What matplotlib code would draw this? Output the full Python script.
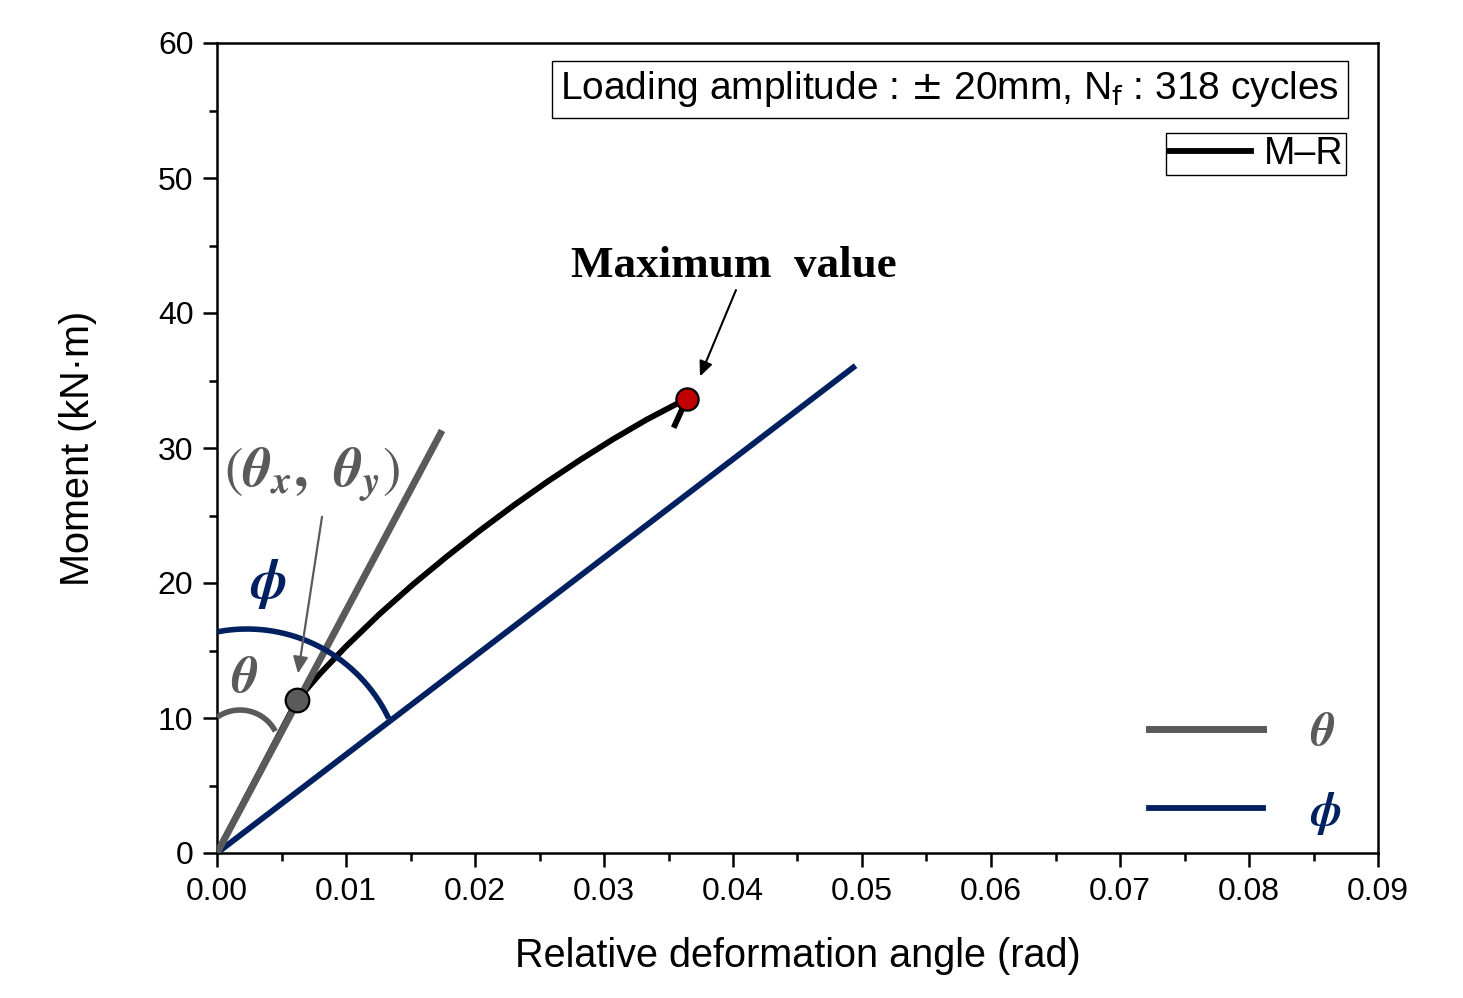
import numpy as np
import matplotlib
matplotlib.use("Agg")
import matplotlib.pyplot as plt
from matplotlib.lines import Line2D

plt.rcParams['font.family'] = ['Liberation Sans', 'DejaVu Sans']
plt.rcParams['mathtext.fontset'] = 'stix'

# ---------------- data ----------------
x_limits = [0.0, 0.09]
y_limits = [0, 60]
x_ticks = [0.00, 0.01, 0.02, 0.03, 0.04, 0.05, 0.06, 0.07, 0.08, 0.09]
y_ticks = [0, 10, 20, 30, 40, 50, 60]

theta_x = [0.0, 0.01745]
theta_y = [0.0, 31.3]
phi_x = [0.0, 0.0495]
phi_y = [0.0, 36.1]

mr_x = [0.0, 0.0062, 0.0080, 0.0100, 0.0126, 0.0152, 0.0178, 0.0204, 0.0230,
        0.0256, 0.0282, 0.0307, 0.0333, 0.0359, 0.0364, 0.0354]
mr_y = [0.0, 11.3, 13.3, 15.3, 17.7, 19.9, 21.95, 23.9, 25.75,
        27.5, 29.15, 30.65, 32.1, 33.4, 33.6, 31.5]

yield_pt = (0.0062, 11.3)
max_pt = (0.0364, 33.6)

GRAY = '#5a5a5a'
NAVY = '#002060'
RED = '#c00000'

fig = plt.figure(figsize=(14.63, 9.98), dpi=100)
ax = fig.add_axes([217/1463, 145/998, 1161/1463, 810/998])
ax.set_xlim(*x_limits)
ax.set_ylim(*y_limits)

ax.plot(mr_x, mr_y, color='black', lw=4.2, solid_capstyle='butt', solid_joinstyle='round', zorder=3)
ax.plot(phi_x, phi_y, color=NAVY, lw=4.2, solid_capstyle='butt', zorder=3)
ax.plot(theta_x, theta_y, color=GRAY, lw=5.0, solid_capstyle='butt', zorder=4)

ax.plot([yield_pt[0]], [yield_pt[1]], 'o', ms=17, mfc=GRAY, mec='black', mew=1.6, zorder=6)
ax.plot([max_pt[0]], [max_pt[1]], 'o', ms=16, mfc=RED, mec='black', mew=1.6, zorder=6)

# arcs (circles in display space)
def pix_arc(center_px, r_px, t1, t2, color, lw):
    t = np.radians(np.linspace(t1, t2, 200))
    px = center_px[0] + r_px * np.cos(t)
    py = center_px[1] - r_px * np.sin(t)
    disp = np.column_stack([px, 998 - py])
    data = ax.transData.inverted().transform(disp)
    ax.plot(data[:, 0], data[:, 1], color=color, lw=lw, solid_capstyle='butt', zorder=5)

pix_arc((247, 786), 157, 101, 25.5, NAVY, 4.0)
pix_arc((240, 750), 40, 125, 28, GRAY, 4.0)

# texts
ax.text(0.00736, 28.0, r'$(\mathbfit{\theta}_\mathbfit{x}\mathbf{,}\ \ \mathbfit{\theta}_\mathbfit{y})$',
        color=GRAY, fontsize=40, ha='center', va='center', zorder=7)
ax.text(0.00395, 19.9, r'$\mathbfit{\phi}$', color=NAVY, fontsize=40,
        ha='center', va='center', zorder=7)
ax.text(0.00217, 12.9, r'$\mathbfit{\theta}$', color=GRAY, fontsize=37,
        ha='center', va='center', zorder=7)

ax.annotate('', xy=(0.00628, 13.3), xytext=(0.00814, 24.9),
            arrowprops=dict(arrowstyle='-|>,head_length=1.0,head_width=0.45',
                            color=GRAY, lw=1.6, shrinkA=0, shrinkB=0), zorder=7)

ax.text(0.0401, 43.5, 'Maximum  value', family='Liberation Serif', weight='bold',
        fontsize=32.5, ha='center', va='center', color='black')
ax.annotate('', xy=(0.03744, 35.3), xytext=(0.04023, 41.7),
            arrowprops=dict(arrowstyle='-|>,head_length=0.9,head_width=0.4',
                            color='black', lw=1.5, shrinkA=0, shrinkB=0))

# info box
ax.text(0.631, 0.943, r'Loading amplitude : $\pm$ 20mm, N$_\mathrm{f}$ : 318 cycles',
        transform=ax.transAxes, ha='center', va='center', fontsize=28,
        math_fontfamily='dejavusans',
        bbox=dict(boxstyle='square,pad=0.22', fc='white', ec='black', lw=1.0))

# legends
leg1 = ax.legend([Line2D([], [], color='black', lw=4.2)], ['M\u2013R'],
                 loc='upper right', bbox_to_anchor=(0.9724, 0.8889), borderaxespad=0,
                 frameon=True, fancybox=False, edgecolor='black', framealpha=1,
                 prop={'size': 27},
                 handlelength=2.2, handletextpad=0.33, borderpad=0.08)
leg1.get_frame().set_linewidth(1.0)
ax.add_artist(leg1)

leg2 = ax.legend([Line2D([], [], color=GRAY, lw=5.0), Line2D([], [], color=NAVY, lw=4.2)],
                 [r'$\mathbfit{\theta}$', r'$\mathbfit{\phi}$'],
                 loc='lower right', bbox_to_anchor=(0.985, -0.003), borderaxespad=0,
                 frameon=False, prop={'size': 34}, handlelength=2.42,
                 handletextpad=1.0, labelspacing=0.73)
leg2.get_texts()[0].set_color(GRAY)
leg2.get_texts()[1].set_color(NAVY)

# axes styling
ax.set_xticks(x_ticks)
ax.set_xticklabels([f'{v:.2f}' for v in x_ticks])
ax.set_yticks(y_ticks)
ax.set_xticks(np.arange(0.005, 0.09, 0.01), minor=True)
ax.set_yticks(np.arange(5, 60, 10), minor=True)
ax.tick_params(which='major', direction='out', length=10, width=1.8, labelsize=23, pad=7)
ax.tick_params(which='minor', direction='out', length=6, width=1.8)
ax.tick_params(top=False, right=False)
for s in ax.spines.values():
    s.set_linewidth(1.8)

ax.set_xlabel('Relative deformation angle (rad)', fontsize=28.5, labelpad=22)
ax.set_ylabel('Moment (kN\u00b7m)', fontsize=28.5, labelpad=44)

fig.savefig('out.png', dpi=100)
